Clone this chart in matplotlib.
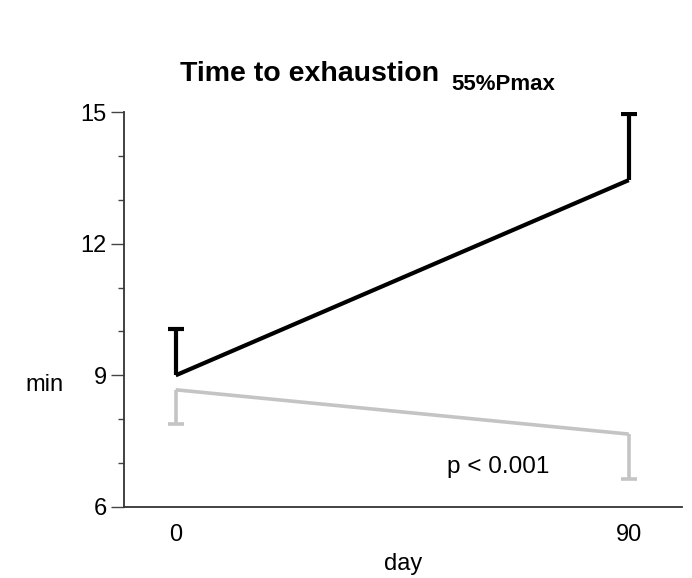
import matplotlib
matplotlib.use('Agg')
import matplotlib.pyplot as plt
from matplotlib.ticker import MultipleLocator

# data
days = [0, 90]
black_mean = [9.0, 13.45]
black_sd = [1.05, 1.5]
grey_mean = [8.67, 7.66]
grey_sd = [0.78, 1.02]
p_text = 'p < 0.001'

plt.rcParams['font.family'] = ['Liberation Sans', 'DejaVu Sans']

fig = plt.figure(figsize=(6.92, 5.78), dpi=100)
ax = fig.add_axes([0.179, 0.123, 0.806, 0.683])

# grey group: line + downward error bars
ax.plot(days, grey_mean, color='#c4c4c4', lw=2.6, solid_capstyle='butt', zorder=2)
grey_low = [m - s for m, s in zip(grey_mean, grey_sd)]
ax.vlines(days, grey_low, grey_mean, color='#c4c4c4', lw=2.6, zorder=2)
ax.plot(days, grey_low, ls='none', marker='_', ms=11, mew=2.6, color='#c4c4c4', zorder=2)

# black group: line + upward error bars
ax.plot(days, black_mean, color='black', lw=3, solid_capstyle='butt', zorder=3)
black_high = [m + s for m, s in zip(black_mean, black_sd)]
ax.vlines(days, black_mean, black_high, color='black', lw=3, zorder=3)
ax.plot(days, black_high, ls='none', marker='_', ms=11, mew=3, color='black', zorder=3)

ax.set_xlim(-10.3, 100.5)
ax.set_ylim(6, 15)
ax.set_xticks(days)
ax.set_xticklabels(['0', '90'])
ax.yaxis.set_major_locator(MultipleLocator(3))
ax.yaxis.set_minor_locator(MultipleLocator(1))

for s in ['top', 'right']:
    ax.spines[s].set_visible(False)
for s in ['left', 'bottom']:
    ax.spines[s].set_color('#333333')
    ax.spines[s].set_linewidth(1.3)

ax.tick_params(axis='y', which='major', length=9.5, width=1, color='#444444',
               labelsize=17, pad=3)
ax.tick_params(axis='y', which='minor', length=4.5, width=1, color='#444444')
ax.tick_params(axis='x', length=0, labelsize=17, pad=12)

ax.set_xlabel('day', fontsize=17, labelpad=5)
ax.set_ylabel('min', fontsize=17, rotation=0, ha='center', va='center')
ax.yaxis.set_label_coords(-0.142, 0.309)

ax.text(64, 6.9, p_text, fontsize=17.5, ha='center', va='center')

title = fig.text(180 / 692, 1 - 81 / 578, 'Time to exhaustion', fontsize=20.5,
                 fontweight='bold', ha='left', va='baseline')
fig.canvas.draw()
bb = title.get_window_extent()
fig.text((bb.x1 + 12) / 692, 1 - 90 / 578, '55%Pmax', fontsize=16,
         fontweight='bold', ha='left', va='baseline')

fig.savefig('out.png', dpi=100)
